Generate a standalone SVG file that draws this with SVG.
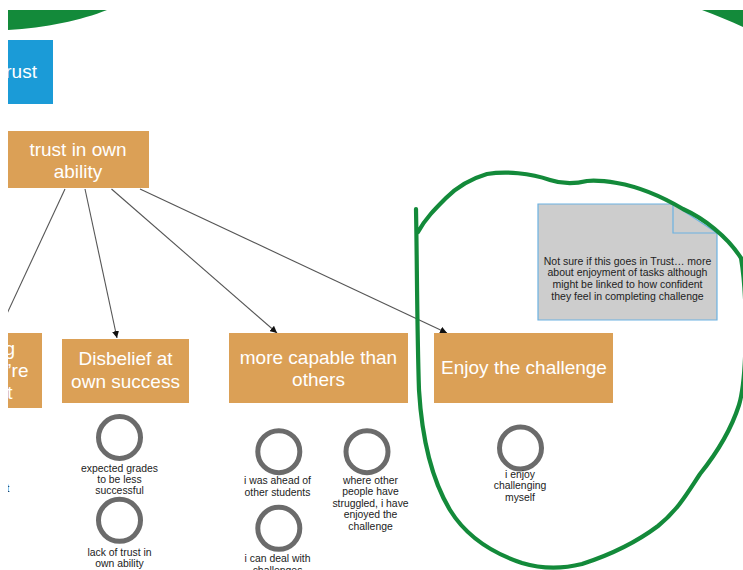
<svg xmlns="http://www.w3.org/2000/svg" width="743" height="570" viewBox="0 0 743 570">
  <defs>
    <clipPath id="view">
      <rect x="8" y="10" width="735" height="560"/>
    </clipPath>
    <marker id="arrow" viewBox="0 0 10 10" refX="10" refY="5" markerWidth="7" markerHeight="7" markerUnits="userSpaceOnUse" orient="auto">
      <path d="M0,0 L10,5 L0,10 Z" fill="#111"/>
    </marker>
    <style>
      .box { fill: #dba056; }
      .topic { fill: #1b9bd7; }
      .boxlabel { font-family: "Liberation Sans", Arial, sans-serif; font-size: 19px; fill: #fff; text-anchor: middle; }
      .ring { fill: none; stroke: #6b6b6b; stroke-width: 5; }
      .small { font-family: "Liberation Sans", Arial, sans-serif; font-size: 10.4px; fill: #222; text-anchor: middle; }
      .note { fill: #cdcdcd; stroke: #6cb2e2; stroke-width: 1.2; }
      .notetext { font-family: "Liberation Sans", Arial, sans-serif; font-size: 10.5px; fill: #222; text-anchor: middle; }
      .link { fill: none; stroke: #555; stroke-width: 1.1; }
      .ink { fill: none; stroke: #138a3a; stroke-width: 4.2; stroke-linecap: round; stroke-linejoin: round; }
      .inkfill { fill: #138a3a; }
    </style>
  </defs>

  <rect width="743" height="570" fill="#fff"/>

  <g clip-path="url(#view)">
    <!-- green shapes along the top edge -->
    <g id="ink-top">
      <path class="inkfill" d="M8,10 L107,10 C82,20 45,28 8,30 Z"/>
      <path class="inkfill" d="M702,10 C716,15 730,21 743,27 L743,10 Z"/>
    </g>

    <!-- connectors -->
    <g id="connectors">
      <path class="link" d="M65,189 L-2,333"/>
      <path class="link" d="M85,189 L117,338" marker-end="url(#arrow)"/>
      <path class="link" d="M111.5,189 L277,333" marker-end="url(#arrow)"/>
      <path class="link" d="M140,189 L447,333" marker-end="url(#arrow)"/>
    </g>

    <g id="node-trust">
      <rect class="topic" x="-40" y="40" width="93" height="64"/>
      <text class="boxlabel" x="0" y="78" style="text-anchor:start">trust</text>
    </g>

    <g id="node-trust-in-own-ability">
      <rect class="box" x="-10" y="131" width="159" height="57"/>
      <text class="boxlabel" x="78" y="156">trust in own</text>
      <text class="boxlabel" x="78" y="177.5">ability</text>
    </g>

    <g id="node-left">
      <rect class="box" x="-60" y="333" width="102" height="75"/>
      <text class="boxlabel" x="15" y="355" style="text-anchor:end">g</text>
      <text class="boxlabel" x="28.5" y="377" style="text-anchor:end">’re</text>
      <text class="boxlabel" x="12.5" y="399" style="text-anchor:end">t</text>
    </g>
    <g id="label-left">
      <text class="small" x="9.5" y="492" style="text-anchor:end">t</text>
    </g>

    <g id="node-disbelief">
      <rect class="box" x="62" y="339" width="127" height="64"/>
      <text class="boxlabel" x="125.5" y="365">Disbelief at</text>
      <text class="boxlabel" x="125.5" y="388">own success</text>
    </g>

    <g id="node-more-capable">
      <rect class="box" x="229" y="333" width="179" height="70"/>
      <text class="boxlabel" x="318.5" y="364">more capable than</text>
      <text class="boxlabel" x="318.5" y="385.5">others</text>
    </g>

    <g id="node-enjoy">
      <rect class="box" x="434" y="333" width="179" height="70"/>
      <text class="boxlabel" x="524" y="373.5">Enjoy the challenge</text>
    </g>

    <g id="quote-expected-grades">
      <circle class="ring" cx="119.5" cy="437.5" r="21"/>
      <text class="small" x="119.5" y="472">expected grades</text>
      <text class="small" x="119.5" y="483">to be less</text>
      <text class="small" x="119.5" y="494">successful</text>
    </g>

    <g id="quote-lack-of-trust">
      <circle class="ring" cx="119.5" cy="520.3" r="21"/>
      <text class="small" x="119.5" y="555.5">lack of trust in</text>
      <text class="small" x="119.5" y="566.5">own ability</text>
    </g>

    <g id="quote-ahead">
      <circle class="ring" cx="278.8" cy="451.7" r="21"/>
      <text class="small" x="277.5" y="484">i was ahead of</text>
      <text class="small" x="277.5" y="495.5">other students</text>
    </g>

    <g id="quote-others-struggled">
      <circle class="ring" cx="367" cy="451.7" r="21"/>
      <text class="small" x="370.5" y="484">where other</text>
      <text class="small" x="370.5" y="495.3">people have</text>
      <text class="small" x="370.5" y="506.6">struggled, i have</text>
      <text class="small" x="370.5" y="518">enjoyed the</text>
      <text class="small" x="370.5" y="529.5">challenge</text>
    </g>

    <g id="quote-deal-with">
      <circle class="ring" cx="278.8" cy="528.3" r="21"/>
      <text class="small" x="277.5" y="562">i can deal with</text>
      <text class="small" x="277.5" y="573.5">challenges</text>
    </g>

    <g id="quote-enjoy">
      <circle class="ring" cx="520.5" cy="448" r="21"/>
      <text class="small" x="520" y="477.5">i enjoy</text>
      <text class="small" x="520" y="489">challenging</text>
      <text class="small" x="520" y="500.5">myself</text>
    </g>

    <g id="memo">
      <path class="note" d="M538,204 L673,204 L717,233 L717,320 L538,320 Z"/>
      <path class="note" d="M673,204 L673,233 L717,233" style="fill:none"/>
      <text class="notetext" x="627.5" y="264.5">Not sure if this goes in Trust… more</text>
      <text class="notetext" x="627.5" y="276.2">about enjoyment of tasks although</text>
      <text class="notetext" x="627.5" y="287.9">might be linked to how confident</text>
      <text class="notetext" x="627.5" y="299.6">they feel in completing challenge</text>
    </g>

    <!-- hand-drawn loop around the right-hand group -->
    <g id="ink-loop">
      <path class="ink" d="M416,209 C417,260 417,330 419,390 C422,440 432,480 450,510 C466,536 492,553 522,563 C542,569 562,569 582,564 C610,555 638,541 658,526 C678,510 688,492 700,474 C716,454 731,430 739,405 C747,378 748,300 741,258 C727,236 703,218 683,209 C661,196 640,187 617,183 C605,181 596,180 587,181 C575,184 562,184 550,180 C530,173 506,171 487,174 C470,179 456,188 446,198 C435,209 425,219 418,232"/>
    </g>
  </g>
</svg>
